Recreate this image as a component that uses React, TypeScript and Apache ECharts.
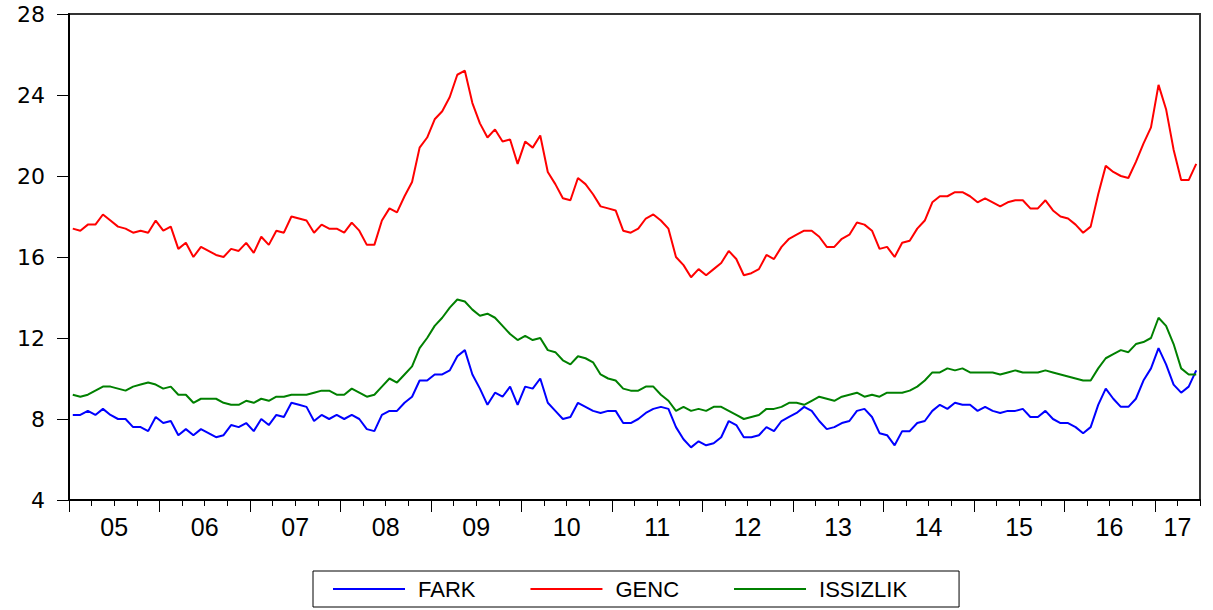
import React, { useEffect, useRef } from "react";
import * as echarts from "echarts";

const START_YEAR = 2005;
const MONTHS: string[] = Array.from({ length: 150 }, (_, i) =>
  `${START_YEAR + Math.floor(i / 12)}M${String((i % 12) + 1).padStart(2, "0")}`
);
const YEAR_LABELS = ["05", "06", "07", "08", "09", "10", "11", "12", "13", "14", "15", "16", "17"];
const Y_TICKS = [4, 8, 12, 16, 20, 24, 28];

const FARK = [
  8.2, 8.2, 8.4, 8.2, 8.5, 8.2, 8.0, 8.0, 7.6, 7.6, 7.4, 8.1, 7.8, 7.9, 7.2, 7.5, 7.2, 7.5, 7.3,
  7.1, 7.2, 7.7, 7.6, 7.8, 7.4, 8.0, 7.7, 8.2, 8.1, 8.8, 8.7, 8.6, 7.9, 8.2, 8.0, 8.2, 8.0, 8.2,
  8.0, 7.5, 7.4, 8.2, 8.4, 8.4, 8.8, 9.1, 9.9, 9.9, 10.2, 10.2, 10.4, 11.1, 11.4, 10.2, 9.5, 8.7, 9.3,
  9.1, 9.6, 8.7, 9.6, 9.5, 10.0, 8.8, 8.4, 8.0, 8.1, 8.8, 8.6, 8.4, 8.3, 8.4, 8.4, 7.8, 7.8,
  8.0, 8.3, 8.5, 8.6, 8.5, 7.6, 7.0, 6.6, 6.9, 6.7, 6.8, 7.1, 7.9, 7.7, 7.1, 7.1, 7.2, 7.6, 7.4,
  7.9, 8.1, 8.3, 8.6, 8.4, 7.9, 7.5, 7.6, 7.8, 7.9, 8.4, 8.5, 8.1, 7.3, 7.2, 6.7, 7.4, 7.4,
  7.8, 7.9, 8.4, 8.7, 8.5, 8.8, 8.7, 8.7, 8.4, 8.6, 8.4, 8.3, 8.4, 8.4, 8.5, 8.1, 8.1, 8.4, 8.0,
  7.8, 7.8, 7.6, 7.3, 7.6, 8.7, 9.5, 9.0, 8.6, 8.6, 9.0, 9.9, 10.5, 11.5, 10.7, 9.7, 9.3, 9.6, 10.4,
];

const GENC = [
  17.4, 17.3, 17.6, 17.6, 18.1, 17.8, 17.5, 17.4, 17.2, 17.3, 17.2, 17.8, 17.3, 17.5, 16.4, 16.7, 16.0, 16.5, 16.3,
  16.1, 16.0, 16.4, 16.3, 16.7, 16.2, 17.0, 16.6, 17.3, 17.2, 18.0, 17.9, 17.8, 17.2, 17.6, 17.4, 17.4, 17.2, 17.7,
  17.3, 16.6, 16.6, 17.8, 18.4, 18.2, 19.0, 19.7, 21.4, 21.9, 22.8, 23.2, 23.9, 25.0, 25.2, 23.6, 22.6, 21.9, 22.3,
  21.7, 21.8, 20.6, 21.7, 21.4, 22.0, 20.2, 19.6, 18.9, 18.8, 19.9, 19.6, 19.1, 18.5, 18.4, 18.3, 17.3, 17.2,
  17.4, 17.9, 18.1, 17.8, 17.4, 16.0, 15.6, 15.0, 15.4, 15.1, 15.4, 15.7, 16.3, 15.9, 15.1, 15.2, 15.4, 16.1, 15.9,
  16.5, 16.9, 17.1, 17.3, 17.3, 17.0, 16.5, 16.5, 16.9, 17.1, 17.7, 17.6, 17.3, 16.4, 16.5, 16.0, 16.7, 16.8,
  17.4, 17.8, 18.7, 19.0, 19.0, 19.2, 19.2, 19.0, 18.7, 18.9, 18.7, 18.5, 18.7, 18.8, 18.8, 18.4, 18.4, 18.8, 18.3,
  18.0, 17.9, 17.6, 17.2, 17.5, 19.1, 20.5, 20.2, 20.0, 19.9, 20.7, 21.6, 22.4, 24.5, 23.3, 21.3, 19.8, 19.8, 20.6,
];

const ISSIZLIK = [
  9.2, 9.1, 9.2, 9.4, 9.6, 9.6, 9.5, 9.4, 9.6, 9.7, 9.8, 9.7, 9.5, 9.6, 9.2, 9.2, 8.8, 9.0, 9.0,
  9.0, 8.8, 8.7, 8.7, 8.9, 8.8, 9.0, 8.9, 9.1, 9.1, 9.2, 9.2, 9.2, 9.3, 9.4, 9.4, 9.2, 9.2, 9.5,
  9.3, 9.1, 9.2, 9.6, 10.0, 9.8, 10.2, 10.6, 11.5, 12.0, 12.6, 13.0, 13.5, 13.9, 13.8, 13.4, 13.1, 13.2, 13.0,
  12.6, 12.2, 11.9, 12.1, 11.9, 12.0, 11.4, 11.3, 10.9, 10.7, 11.1, 11.0, 10.8, 10.2, 10.0, 9.9, 9.5, 9.4,
  9.4, 9.6, 9.6, 9.2, 8.9, 8.4, 8.6, 8.4, 8.5, 8.4, 8.6, 8.6, 8.4, 8.2, 8.0, 8.1, 8.2, 8.5, 8.5,
  8.6, 8.8, 8.8, 8.7, 8.9, 9.1, 9.0, 8.9, 9.1, 9.2, 9.3, 9.1, 9.2, 9.1, 9.3, 9.3, 9.3, 9.4,
  9.6, 9.9, 10.3, 10.3, 10.5, 10.4, 10.5, 10.3, 10.3, 10.3, 10.3, 10.2, 10.3, 10.4, 10.3, 10.3, 10.3, 10.4, 10.3,
  10.2, 10.1, 10.0, 9.9, 9.9, 10.5, 11.0, 11.2, 11.4, 11.3, 11.7, 11.8, 12.0, 13.0, 12.6, 11.7, 10.5, 10.2, 10.2,
];

const SERIES_NAMES = ["FARK", "GENC", "ISSIZLIK"];
const SERIES_VALUES = [FARK, GENC, ISSIZLIK];
const SERIES_COLORS = ["#0000ff", "#ff0000", "#008000"];

export default function App() {
  const ref = useRef<HTMLDivElement>(null);

  useEffect(() => {
    if (!ref.current) return;
    const chart = echarts.init(ref.current, undefined, { renderer: "svg" });
    const n = MONTHS.length;

    const years = Array.from(new Set(MONTHS.map((m) => m.slice(0, 4))));
    const labelPos: number[] = years.map((y) => {
      const idx = MONTHS.map((m, i) => (m.startsWith(y) ? i : -1)).filter((i) => i >= 0);
      return (idx[0] + idx[idx.length - 1] + 1) / 2;
    });
    const posToLabel = new Map<number, string>();
    labelPos.forEach((p, k) => posToLabel.set(p, YEAR_LABELS[k]));

    const quarterTicks: number[] = [];
    for (let i = 0; i <= n; i += 3) quarterTicks.push(i);
    const yearTicks: number[] = [];
    for (let i = 0; i < n; i += 12) yearTicks.push(i);

    const option: any = {
      animation: false,
      backgroundColor: "#ffffff",
      grid: {
        left: 69,
        right: 13,
        top: 14,
        bottom: 110,
        show: true,
        borderColor: "#333333",
        borderWidth: 2,
      },
      legend: {
        data: SERIES_NAMES,
        left: 313,
        top: 571,
        orient: "horizontal",
        icon: "rect",
        itemWidth: 72,
        itemHeight: 2,
        itemGap: 55,
        padding: [7, 52, 7, 20],
        borderColor: "#000000",
        borderWidth: 1,
        textStyle: {
          color: "#000000",
          fontFamily: "Liberation Sans",
          fontSize: 22,
          padding: [0, 0, 0, 8],
        },
      },
      xAxis: [
        {
          type: "value",
          min: 0,
          max: n,
          position: "bottom",
          splitLine: { show: false },
          axisLine: { show: true, lineStyle: { color: "#000000", width: 2 } },
          axisTick: {
            show: true,
            customValues: quarterTicks,
            length: 6,
            lineStyle: { color: "#000000", width: 1 },
          },
          axisLabel: { show: false },
        },
        {
          type: "value",
          min: 0,
          max: n,
          position: "bottom",
          splitLine: { show: false },
          axisLine: { show: false },
          axisTick: {
            show: true,
            customValues: yearTicks,
            length: 12,
            lineStyle: { color: "#000000", width: 1 },
          },
          axisLabel: {
            show: true,
            customValues: labelPos,
            formatter: (v: number) => posToLabel.get(v) ?? "",
            margin: 14,
            color: "#000000",
            fontFamily: "Liberation Sans",
            fontSize: 25,
          },
        },
      ],
      yAxis: {
        type: "value",
        min: Y_TICKS[0],
        max: Y_TICKS[Y_TICKS.length - 1],
        interval: 4,
        splitLine: { show: false },
        axisLine: { show: true, lineStyle: { color: "#000000", width: 2 } },
        axisTick: { show: true, length: 12, lineStyle: { color: "#000000", width: 1 } },
        axisLabel: {
          margin: 24,
          color: "#000000",
          fontFamily: "DejaVu Sans",
          fontSize: 22,
        },
      },
      series: SERIES_NAMES.map((name, k) => ({
        name,
        type: "line",
        xAxisIndex: 0,
        symbol: "none",
        data: SERIES_VALUES[k].map((v, i) => [i + 0.5, v]),
        lineStyle: { color: SERIES_COLORS[k], width: 2 },
        itemStyle: { color: SERIES_COLORS[k] },
      })),
    };

    chart.setOption(option);
    return () => chart.dispose();
  }, []);

  return (
    <div
      ref={ref}
      style={{ position: "fixed", left: 0, top: 0, width: 1213, height: 610 }}
    />
  );
}
